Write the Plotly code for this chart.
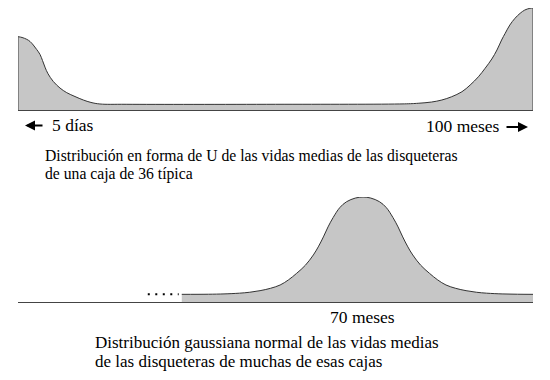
import plotly.graph_objects as go

# ---- data ----
# Top panel: U-shaped distribution (x in months, 0 = 5 days ... 100 months; y relative height)
u_months = [0, 0.78, 1.69, 2.33, 2.97, 3.63, 4.27, 4.76, 5.24, 5.83, 6.85, 8.16, 9.46, 11.07, 12.68, 14.17, 15.9,
            21.0, 50.0, 75.0,
            77.7, 80.3, 82.3, 84.2, 86.2, 87.8, 89.4, 90.7, 92.0, 93.0, 93.9, 94.6, 95.5, 96.5, 97.5, 98.4, 99.4, 100]
u_height = [0.719, 0.711, 0.693, 0.672, 0.637, 0.593, 0.545, 0.485, 0.42, 0.355, 0.28, 0.215, 0.17, 0.132, 0.098, 0.074, 0.059,
            0.056, 0.056, 0.060,
            0.066, 0.078, 0.098, 0.130, 0.179, 0.245, 0.326, 0.409, 0.50, 0.588, 0.686, 0.752, 0.833, 0.899, 0.948, 0.980, 0.997, 1.0]

# Bottom panel: gaussian distribution of averages (x in months, centred on 70)
g_months = [34.8, 40.0, 43.0, 46.0, 48.0, 50.0, 52.0, 53.9, 55.5, 57.1, 58.8, 60.35, 61.3, 62.3, 63.2, 64.2, 65.5, 66.8, 68.5, 70.0,
            71.5, 73.2, 74.5, 75.8, 76.8, 77.7, 78.7, 79.65, 81.2, 82.9, 84.5, 86.1, 88.0, 90.0, 92.0, 94.0, 97.0, 100.0, 103.0]
g_height = [0.073, 0.074, 0.077, 0.084, 0.093, 0.108, 0.13, 0.162, 0.21, 0.273, 0.35, 0.448, 0.525, 0.62, 0.715, 0.805, 0.90, 0.955, 0.99, 1.0,
            0.99, 0.955, 0.90, 0.805, 0.715, 0.62, 0.525, 0.448, 0.35, 0.273, 0.21, 0.162, 0.13, 0.108, 0.093, 0.084, 0.077, 0.074, 0.073]

label_left = "5 días"
label_right = "100 meses"
label_mean = "70 meses"
caption_u = ["Distribución en forma de U de las vidas medias de las disqueteras",
             "de una caja de 36 típica"]
caption_g = ["Distribución gaussiana normal de las vidas medias",
             "de las disqueteras de muchas de esas cajas"]

W, H = 550, 380
FILL = "#c6c6c6"
EDGE = "#333333"
AXIS = "#444444"
FAMILY = "Liberation Serif"
FONT_LBL = dict(family=FAMILY, size=17.5, color="black")
FONT_CAP1 = dict(family=FAMILY, size=15.7, color="black")
FONT_CAP2 = dict(family=FAMILY, size=17, color="black")


def px(x):
    return x / W


def py(y):
    return 1 - y / H


fig = go.Figure()
fig.add_trace(go.Scatter(x=u_months, y=u_height, mode="lines", fill="tozeroy",
                         fillcolor=FILL, line=dict(color=EDGE, width=1, shape="spline", smoothing=1),
                         xaxis="x", yaxis="y", hoverinfo="skip", cliponaxis=False))
fig.add_trace(go.Scatter(x=g_months, y=g_height, mode="lines", fill="tozeroy",
                         fillcolor=FILL, line=dict(color=EDGE, width=1, shape="spline", smoothing=1),
                         xaxis="x2", yaxis="y2", hoverinfo="skip", cliponaxis=False))

xdom = [px(18), px(533)]
fig.update_layout(
    width=W, height=H, autosize=False,
    margin=dict(l=0, r=0, t=0, b=0),
    paper_bgcolor="white", plot_bgcolor="white",
    showlegend=False,
    font=dict(family=FAMILY),
    xaxis=dict(domain=xdom, range=[0, 100], showgrid=False, zeroline=False,
               showline=True, linecolor=AXIS, linewidth=1.2, showticklabels=False,
               ticks="", anchor="y"),
    yaxis=dict(domain=[py(110), py(8)], range=[0, 1], visible=False, anchor="x"),
    xaxis2=dict(domain=xdom, range=[3, 103], showgrid=False, zeroline=False,
                showline=True, linecolor=AXIS, linewidth=1.2, showticklabels=False,
                ticks="", anchor="y2"),
    yaxis2=dict(domain=[py(302), py(197)], range=[0, 1], visible=False, anchor="x2"),
)

# vertical end markers of the top scale
for xv, yv in [(u_months[0], u_height[0]), (u_months[-1], u_height[-1])]:
    fig.add_shape(type="line", xref="x", yref="y", x0=xv, x1=xv, y0=yv, y1=-0.255,
                  line=dict(color="#555555", width=1.2))

# ellipsis before the gaussian tail
fig.add_shape(type="line", xref="x2", yref="y2", x0=g_months[0] - 6.6, x1=g_months[0] - 0.6,
              y0=g_height[0], y1=g_height[0], line=dict(color="black", width=2, dash="2px,5.5px"))

# arrows next to the scale labels
for tip, dx, yy in [(25, 19, 125.5), (528, -23, 127)]:
    fig.add_annotation(x=px(tip), y=py(yy), xref="paper", yref="paper", text="",
                       showarrow=True, ax=dx, ay=0, axref="pixel", ayref="pixel",
                       arrowhead=2, arrowsize=1, arrowwidth=2, arrowcolor="black", standoff=0)

ann = [
    (50, 125, label_left, "left", FONT_LBL),
    (502, 126, label_right, "right", FONT_LBL),
    (362, 317, label_mean, "center", FONT_LBL),
    (43, 156, caption_u[0], "left", FONT_CAP1),
    (43, 174, caption_u[1], "left", FONT_CAP1),
    (93, 342.5, caption_g[0], "left", FONT_CAP2),
    (93, 361.5, caption_g[1], "left", FONT_CAP2),
]
for x, y, t, xa, f in ann:
    fig.add_annotation(x=px(x), y=py(y), xref="paper", yref="paper", text=t,
                       showarrow=False, xanchor=xa, yanchor="middle", font=f)

fig.write_html("out.html")
